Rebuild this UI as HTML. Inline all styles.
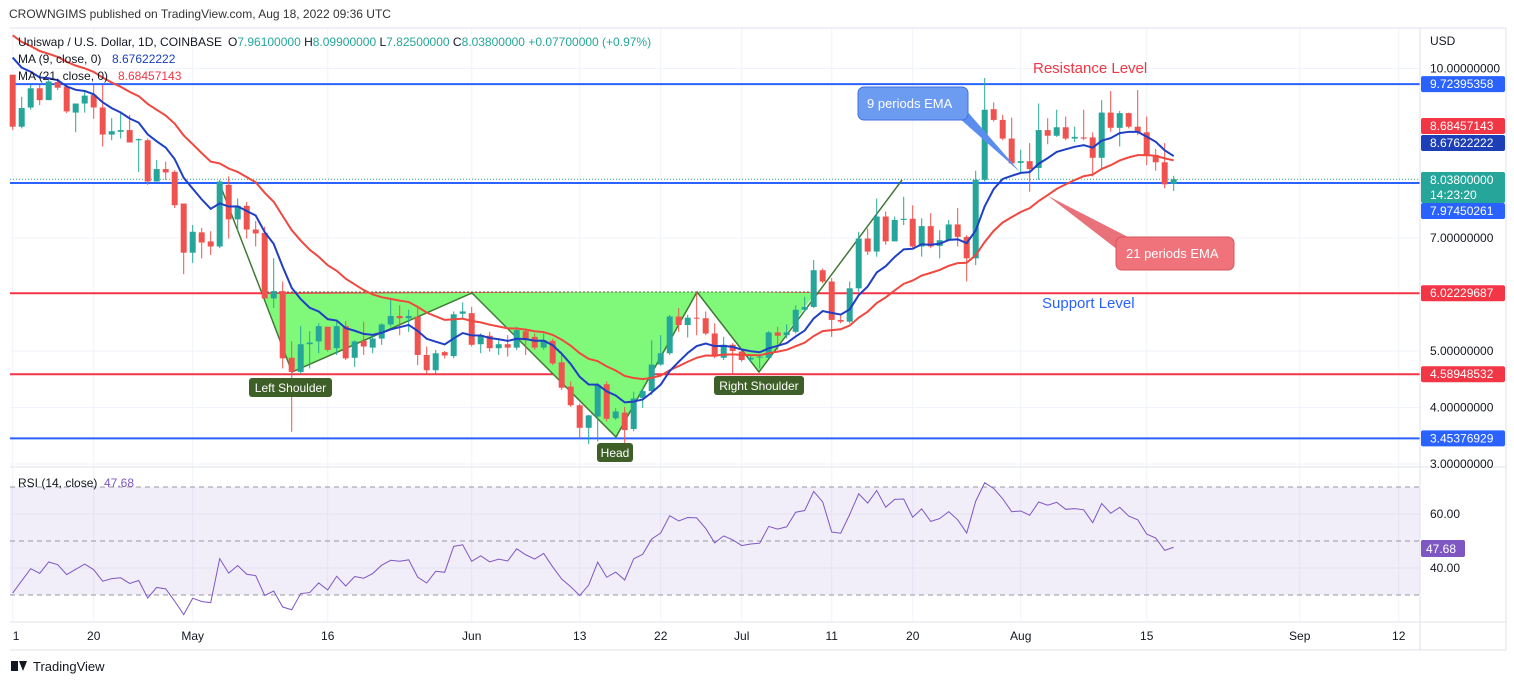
<!DOCTYPE html>
<html><head><meta charset="utf-8">
<style>
body{margin:0;background:#fff;font-family:"Liberation Sans",sans-serif;}
svg text{font-family:"Liberation Sans",sans-serif;}
</style></head>
<body>
<svg id="c" width="1514" height="685" viewBox="0 0 1514 685" xmlns="http://www.w3.org/2000/svg">
<rect x="0" y="0" width="1514" height="685" fill="#fff"/>
<text x="9" y="18" font-size="12" fill="#333">CROWNGIMS published on TradingView.com, Aug 18, 2022 09:36 UTC</text>
<g id="grid"></g>
<g id="bands"></g>
<g id="levels"></g>
<g id="pattern"></g>
<g id="candles"></g>
<g id="mas"></g>
<g id="rsi"></g>
<g id="axes"></g>
<g id="notes"></g>
</svg>
<script>
const opens=[9.89,8.97,9.31,9.65,9.44,9.76,9.68,9.22,9.38,9.53,9.31,8.83,8.88,8.91,8.73,8.73,8.00,8.22,8.17,7.61,6.74,7.10,6.94,6.85,7.94,7.33,7.57,7.15,7.09,5.93,6.06,4.88,4.63,5.12,5.17,5.43,5.05,5.44,4.88,5.18,5.06,5.22,5.47,5.62,5.58,5.61,4.93,4.66,4.98,4.91,5.66,5.67,5.12,5.27,5.05,5.12,5.06,5.35,5.25,5.06,5.18,4.80,4.37,4.04,3.64,3.84,4.41,3.81,3.91,3.62,4.17,4.29,4.76,4.96,5.61,5.46,5.59,5.58,5.31,4.88,5.11,4.99,4.85,4.89,4.88,5.33,5.28,5.34,5.73,5.78,6.43,6.23,5.55,5.52,6.11,6.99,6.76,7.38,6.94,7.32,7.34,6.85,7.21,6.86,6.96,7.24,7.02,6.64,8.03,9.28,9.09,8.76,8.33,8.36,8.24,8.91,8.81,8.96,8.76,8.78,8.78,8.42,9.22,8.95,9.21,8.97,8.87,8.47,8.34,7.96];
const highs=[9.89,9.50,9.71,9.71,9.80,9.80,9.71,9.38,9.59,9.71,9.71,9.12,9.21,9.18,8.76,8.76,8.38,8.35,8.20,7.61,7.23,7.18,7.12,8.03,8.09,7.70,7.64,7.30,7.20,6.64,6.23,5.17,5.44,5.35,5.49,5.43,5.52,5.53,5.19,5.52,5.28,5.49,5.94,5.81,5.73,5.76,5.08,5.02,5.00,5.70,5.86,5.78,5.31,5.34,5.19,5.28,5.43,5.40,5.31,5.31,5.22,4.93,4.46,4.07,3.87,4.43,4.46,3.99,4.01,4.28,4.34,5.19,5.28,5.64,5.76,5.64,6.05,5.70,5.49,5.25,5.14,5.02,4.93,4.93,5.35,5.43,5.47,5.81,5.96,6.61,6.46,6.29,5.64,6.23,7.11,7.17,7.70,7.47,7.38,7.73,7.58,7.35,7.44,7.14,7.32,7.53,7.05,8.19,9.83,9.40,9.18,9.13,8.56,8.68,9.38,9.12,9.27,9.15,8.97,9.27,8.87,9.44,9.60,9.25,9.22,9.62,9.15,8.58,8.68,8.10];
const lows=[8.91,8.94,9.27,9.35,9.44,9.62,9.21,8.87,9.22,9.11,8.62,8.73,8.76,8.69,8.17,7.94,8.00,8.03,7.53,6.36,6.56,6.64,6.70,6.82,6.99,7.11,6.99,6.85,5.93,5.76,4.69,3.57,4.60,4.69,4.96,4.99,4.93,4.84,4.72,4.93,4.96,5.11,5.43,5.28,5.34,4.75,4.60,4.60,4.87,4.87,5.58,5.08,4.96,4.99,4.93,4.90,5.02,4.93,5.02,5.02,4.75,4.31,4.01,3.45,3.35,3.40,3.75,3.78,3.34,3.58,3.99,4.22,4.74,4.93,5.34,5.24,5.28,5.28,4.87,4.84,4.60,4.81,4.81,4.69,4.87,5.02,5.22,5.31,5.70,5.76,6.20,5.25,5.49,5.49,6.05,6.70,6.67,6.88,6.94,7.23,6.82,6.67,6.82,6.64,6.94,6.85,6.23,6.52,8.00,9.06,8.73,8.30,8.14,7.82,8.03,8.66,8.79,8.73,8.70,8.73,8.09,8.20,8.88,8.62,8.94,8.82,8.29,8.19,7.88,7.83];
const closes=[8.97,9.30,9.65,9.44,9.77,9.66,9.24,9.38,9.52,9.31,8.83,8.89,8.91,8.69,8.75,8.00,8.22,8.16,7.58,6.74,7.11,6.92,6.85,8.00,7.33,7.57,7.15,7.08,5.93,6.06,4.87,4.63,5.12,5.15,5.44,5.02,5.44,4.87,5.17,5.08,5.22,5.47,5.62,5.58,5.62,4.93,4.66,4.96,4.92,5.65,5.70,5.11,5.27,5.05,5.12,5.06,5.37,5.19,5.06,5.19,4.78,4.35,4.04,3.64,3.86,4.40,3.80,3.93,3.60,4.16,4.29,4.76,4.96,5.61,5.46,5.59,5.58,5.31,4.90,5.11,5.00,4.84,4.88,4.90,5.33,5.27,5.33,5.73,5.78,6.43,6.23,5.55,5.52,6.11,6.99,6.76,7.38,6.94,7.32,7.34,6.85,7.21,6.85,6.96,7.24,7.02,6.64,8.03,9.27,9.09,8.76,8.32,8.36,8.22,8.91,8.81,8.96,8.76,8.79,8.76,8.42,9.22,8.95,9.21,8.97,8.87,8.46,8.34,7.95,8.04];
const ema9Seed=10.5, ema21Seed=10.75;
const rsiSeedGain=0.12, rsiSeedLoss=0.20;
const priceTicks=[10,7,5,4,3];
const priceTickLabels=["10.00000000","7.00000000","5.00000000","4.00000000","3.00000000"];
const dateTickIdx=[0,9,20,35,51,63,72,81,91,100,112,126,143,154];
const dateTickLabels=["1","20","May","16","Jun","13","22","Jul","11","20","Aug","15","Sep","12"];
const levelPrices=[9.72395358,7.97450261,6.02229687,4.58948532,3.45376929];
const levelColors=["#2962ff","#2962ff","#f23645","#f23645","#2962ff"];
const rsiTicks=[60,40];

const NS="http://www.w3.org/2000/svg";
const X0=12.7, DX=9.0;
const xOf=i=>X0+i*DX;
const yOf=p=>351-(p-5)*56.5;
const rY=v=>514+(60-v)*2.7;
const L=10, R=1420;
function mk(tag,attrs,parent){const e=document.createElementNS(NS,tag);for(const k in attrs)e.setAttribute(k,attrs[k]);parent.appendChild(e);return e;}
const g=id=>document.getElementById(id);

// grid
priceTicks.forEach(p=>{const l=mk('line',{x1:L,x2:R,y1:yOf(p),y2:yOf(p),stroke:'#f0f3fa'},g('grid'));

});
[514,568].forEach(y=>{const l=mk('line',{x1:L,x2:R,y1:y,y2:y,stroke:'#f0f3fa'},g('grid'));

});
dateTickIdx.forEach(i=>{const l=mk('line',{x1:xOf(i),x2:xOf(i),y1:28,y2:622,stroke:'#f0f3fa'},g('grid'));

});

// frame
const fr=[[L,28,1506,28],[R,28,R,650],[L,467,1506,467],[L,622,1506,622],[L,650,1506,650],[1506,28,1506,650]];
fr.forEach(f=>{const l=mk('line',{x1:f[0],y1:f[1],x2:f[2],y2:f[3],stroke:'#e0e3eb'},g('axes'));

});

// rsi band
const band=mk('rect',{x:L,y:rY(70),width:R-L,height:rY(30)-rY(70),fill:'rgba(126,87,194,0.1)'},g('bands'));


[70,50,30].forEach(v=>{const l=mk('line',{x1:L,x2:R,y1:rY(v),y2:rY(v),stroke:'#9598a1','stroke-dasharray':'5,4','stroke-width':1},g('bands'));

});

// levels
levelPrices.forEach((p,k)=>{const l=mk('line',{x1:L,x2:R,y1:yOf(p),y2:yOf(p),stroke:levelColors[k],'stroke-width':2},g('levels'));

});
const cl=mk('line',{x1:L,x2:R,y1:yOf(closes[closes.length-1]),y2:yOf(closes[closes.length-1]),stroke:'#26a69a','stroke-dasharray':'1,2'},g('levels'));



// pattern
const pat=g('pattern');
const fills=["263,294 292,372 472,293","472,293 616,437 697,292","697,292 759,372 815,293"];
fills.forEach(pt=>{const p=mk('polygon',{points:pt,fill:'#80f97a'},pat);

});
const pl=mk('polyline',{points:"219,182 263,296 292,372 472,293 616,437 697,292 759,372 902,180",fill:'none',stroke:'#3f7a34','stroke-width':1.5},pat);


const nk=mk('line',{x1:263,x2:815,y1:292,y2:292,stroke:'#3f7a34','stroke-dasharray':'2,2'},pat);



// candles
for(let i=0;i<closes.length;i++){
 const up=closes[i]>=opens[i], col=up?'#26a69a':'#ef5350', x=xOf(i);
 const grp=mk('g',{},g('candles'));
 
 
 mk('line',{x1:x,x2:x,y1:yOf(highs[i]),y2:yOf(lows[i]),stroke:col,'stroke-width':1},grp);
 const t=yOf(Math.max(opens[i],closes[i])), b=yOf(Math.min(opens[i],closes[i]));
 mk('rect',{x:x-3,y:t,width:6,height:Math.max(1,b-t),fill:col},grp);
}

// EMAs
function ema(n,seed){let v=seed,k=2/(n+1),out=[];closes.forEach(c=>{v=c*k+v*(1-k);out.push(v);});return out;}
const e9=ema(9,ema9Seed), e21=ema(21,ema21Seed);
function line(vals,col,name){const pts=vals.map((v,i)=>xOf(i)+','+yOf(v)).join(' ');
const p=mk('polyline',{points:pts,fill:'none',stroke:col,'stroke-width':2},g('mas'));

}
line(e21,'#f0483e','ema-21-line');
line(e9,'#1f3fc4','ema-9-line');

// RSI
let ag=rsiSeedGain, al=rsiSeedLoss; const rsiVals=[];
for(let i=0;i<closes.length;i++){const ch=i?closes[i]-closes[i-1]:closes[0]-opens[0];
 ag=(ag*13+Math.max(ch,0))/14; al=(al*13+Math.max(-ch,0))/14; rsiVals.push(100-100/(1+ag/al));}
const rp=mk('polyline',{points:rsiVals.map((v,i)=>xOf(i)+','+rY(v)).join(' '),fill:'none',stroke:'#7e57c2','stroke-width':1},g('rsi'));



// axes labels
const ax=g('axes');
function txt(x,y,s,attrs,parent,name,inter){const t=mk('text',Object.assign({x:x,y:y,'font-size':12,fill:'#131722'},attrs),parent);t.textContent=s;

return t;}
txt(1430,45,'USD',{},ax,'currency-label');
priceTicks.forEach((p,k)=>txt(1430,yOf(p)+4,priceTickLabels[k],{},ax,'price-tick-label'));
rsiTicks.forEach(v=>txt(1430,rY(v)+4,v.toFixed(2),{},ax,'rsi-tick-label'));
dateTickIdx.forEach((i,k)=>txt(xOf(i),640,dateTickLabels[k],{'text-anchor':i===0?'start':'middle'},ax,'date-tick-label'));
function tag(y,label,col,h,name){const gr=mk('g',{},ax);


mk('rect',{x:1421,y:y-8,width:84,height:h||16,rx:2,fill:col},gr);
const t=mk('text',{x:1430,y:y+4,'font-size':12,fill:'#fff'},gr);t.textContent=label;return gr;}
tag(yOf(9.72395358),'9.72395358','#2962ff',16,'resistance-price-tag');
tag(126,'8.68457143','#f23645',16,'ema21-price-tag');
tag(143,'8.67622222','#1c3fb8',16,'ema9-price-tag');
const lt=tag(180,'8.03800000','#26a69a',31,'last-price-tag');
const tt=mk('text',{x:1430,y:199,'font-size':12,fill:'#fff'},lt);tt.textContent='14:23:20';
tag(211,'7.97450261','#2962ff',16,'support-blue-price-tag');
tag(yOf(6.02229687),'6.02229687','#f23645',16,'support-price-tag');
tag(yOf(4.58948532),'4.58948532','#f23645',16,'lower-support-price-tag');
tag(yOf(3.45376929),'3.45376929','#2962ff',16,'low-price-tag');
const rt=mk('g',{},ax);


mk('rect',{x:1421,y:540,width:44,height:17,rx:2,fill:'#7e57c2'},rt);
const rtt=mk('text',{x:1426,y:553,'font-size':12,fill:'#fff'},rt);rtt.textContent=rsiVals[rsiVals.length-1].toFixed(2);

// legend
const n=g('notes');
const lg=txt(18,46,'Uniswap / U.S. Dollar, 1D, COINBASE',{},n,'symbol-legend');
const ohlc=mk('text',{x:228,y:46,'font-size':12,fill:'#131722'},n);


ohlc.innerHTML='O<tspan fill="#26a69a">7.96100000</tspan>  H<tspan fill="#26a69a">8.09900000</tspan>  L<tspan fill="#26a69a">7.82500000</tspan>  C<tspan fill="#26a69a">8.03800000  +0.07700000 (+0.97%)</tspan>';
ohlc.setAttribute('xml:space','preserve');
txt(18,63,'MA (9, close, 0)',{},n,'ma9-legend');
txt(112,63,'8.67622222',{fill:'#1c3fb8'},n,'ma9-value');
txt(18,80,'MA (21, close, 0)',{},n,'ma21-legend');
txt(118,80,'8.68457143',{fill:'#f23645'},n,'ma21-value');
txt(18,487,'RSI (14, close)',{},n,'rsi-legend');
txt(104,487,rsiVals[rsiVals.length-1].toFixed(2),{fill:'#7e57c2'},n,'rsi-legend-value');
txt(1033,73,'Resistance Level',{fill:'#f23645','font-size':15},n,'resistance-label');
txt(1042,308,'Support Level',{fill:'#2962ff','font-size':15},n,'support-label');
// callouts
const c1=mk('g',{},n);


mk('polygon',{points:'950,110 966,110 1020,172',fill:'#5b8def'},c1);
mk('rect',{x:858,y:87,width:110,height:33,rx:6,fill:'#6c9bf2',stroke:'#3f72e0'},c1);
const c1t=mk('text',{x:867,y:108,'font-size':13,fill:'#fff'},c1);c1t.textContent='9 periods EMA';
const c2=mk('g',{},n);


mk('polygon',{points:'1048,196 1130,238 1118,250',fill:'#e8717a'},c2);
mk('rect',{x:1116,y:237,width:118,height:33,rx:6,fill:'#f0727b',stroke:'#d85560'},c2);
const c2t=mk('text',{x:1126,y:258,'font-size':13,fill:'#fff'},c2);c2t.textContent='21 periods EMA';
function lab(x,y,w,s,name){const gr=mk('g',{},n);


mk('rect',{x:x,y:y,width:w,height:19,rx:3,fill:'#3e5f27'},gr);
const t=mk('text',{x:x+w/2,y:y+14,'font-size':12,fill:'#fff','text-anchor':'middle'},gr);t.textContent=s;}
lab(249,378,83,'Left Shoulder','left-shoulder-label');
lab(597,443,36,'Head','head-label');
lab(714,376,90,'Right Shoulder','right-shoulder-label');
// footer
const ft=mk('g',{},n);


mk('rect',{x:11,y:661,width:7,height:10,fill:'#131722'},ft);
mk('polygon',{points:'19,661 27,661 23,671',fill:'#131722'},ft);
const ftt=mk('text',{x:33,y:671,'font-size':13,fill:'#131722'},ft);ftt.textContent='TradingView';
</script>
</body></html>
